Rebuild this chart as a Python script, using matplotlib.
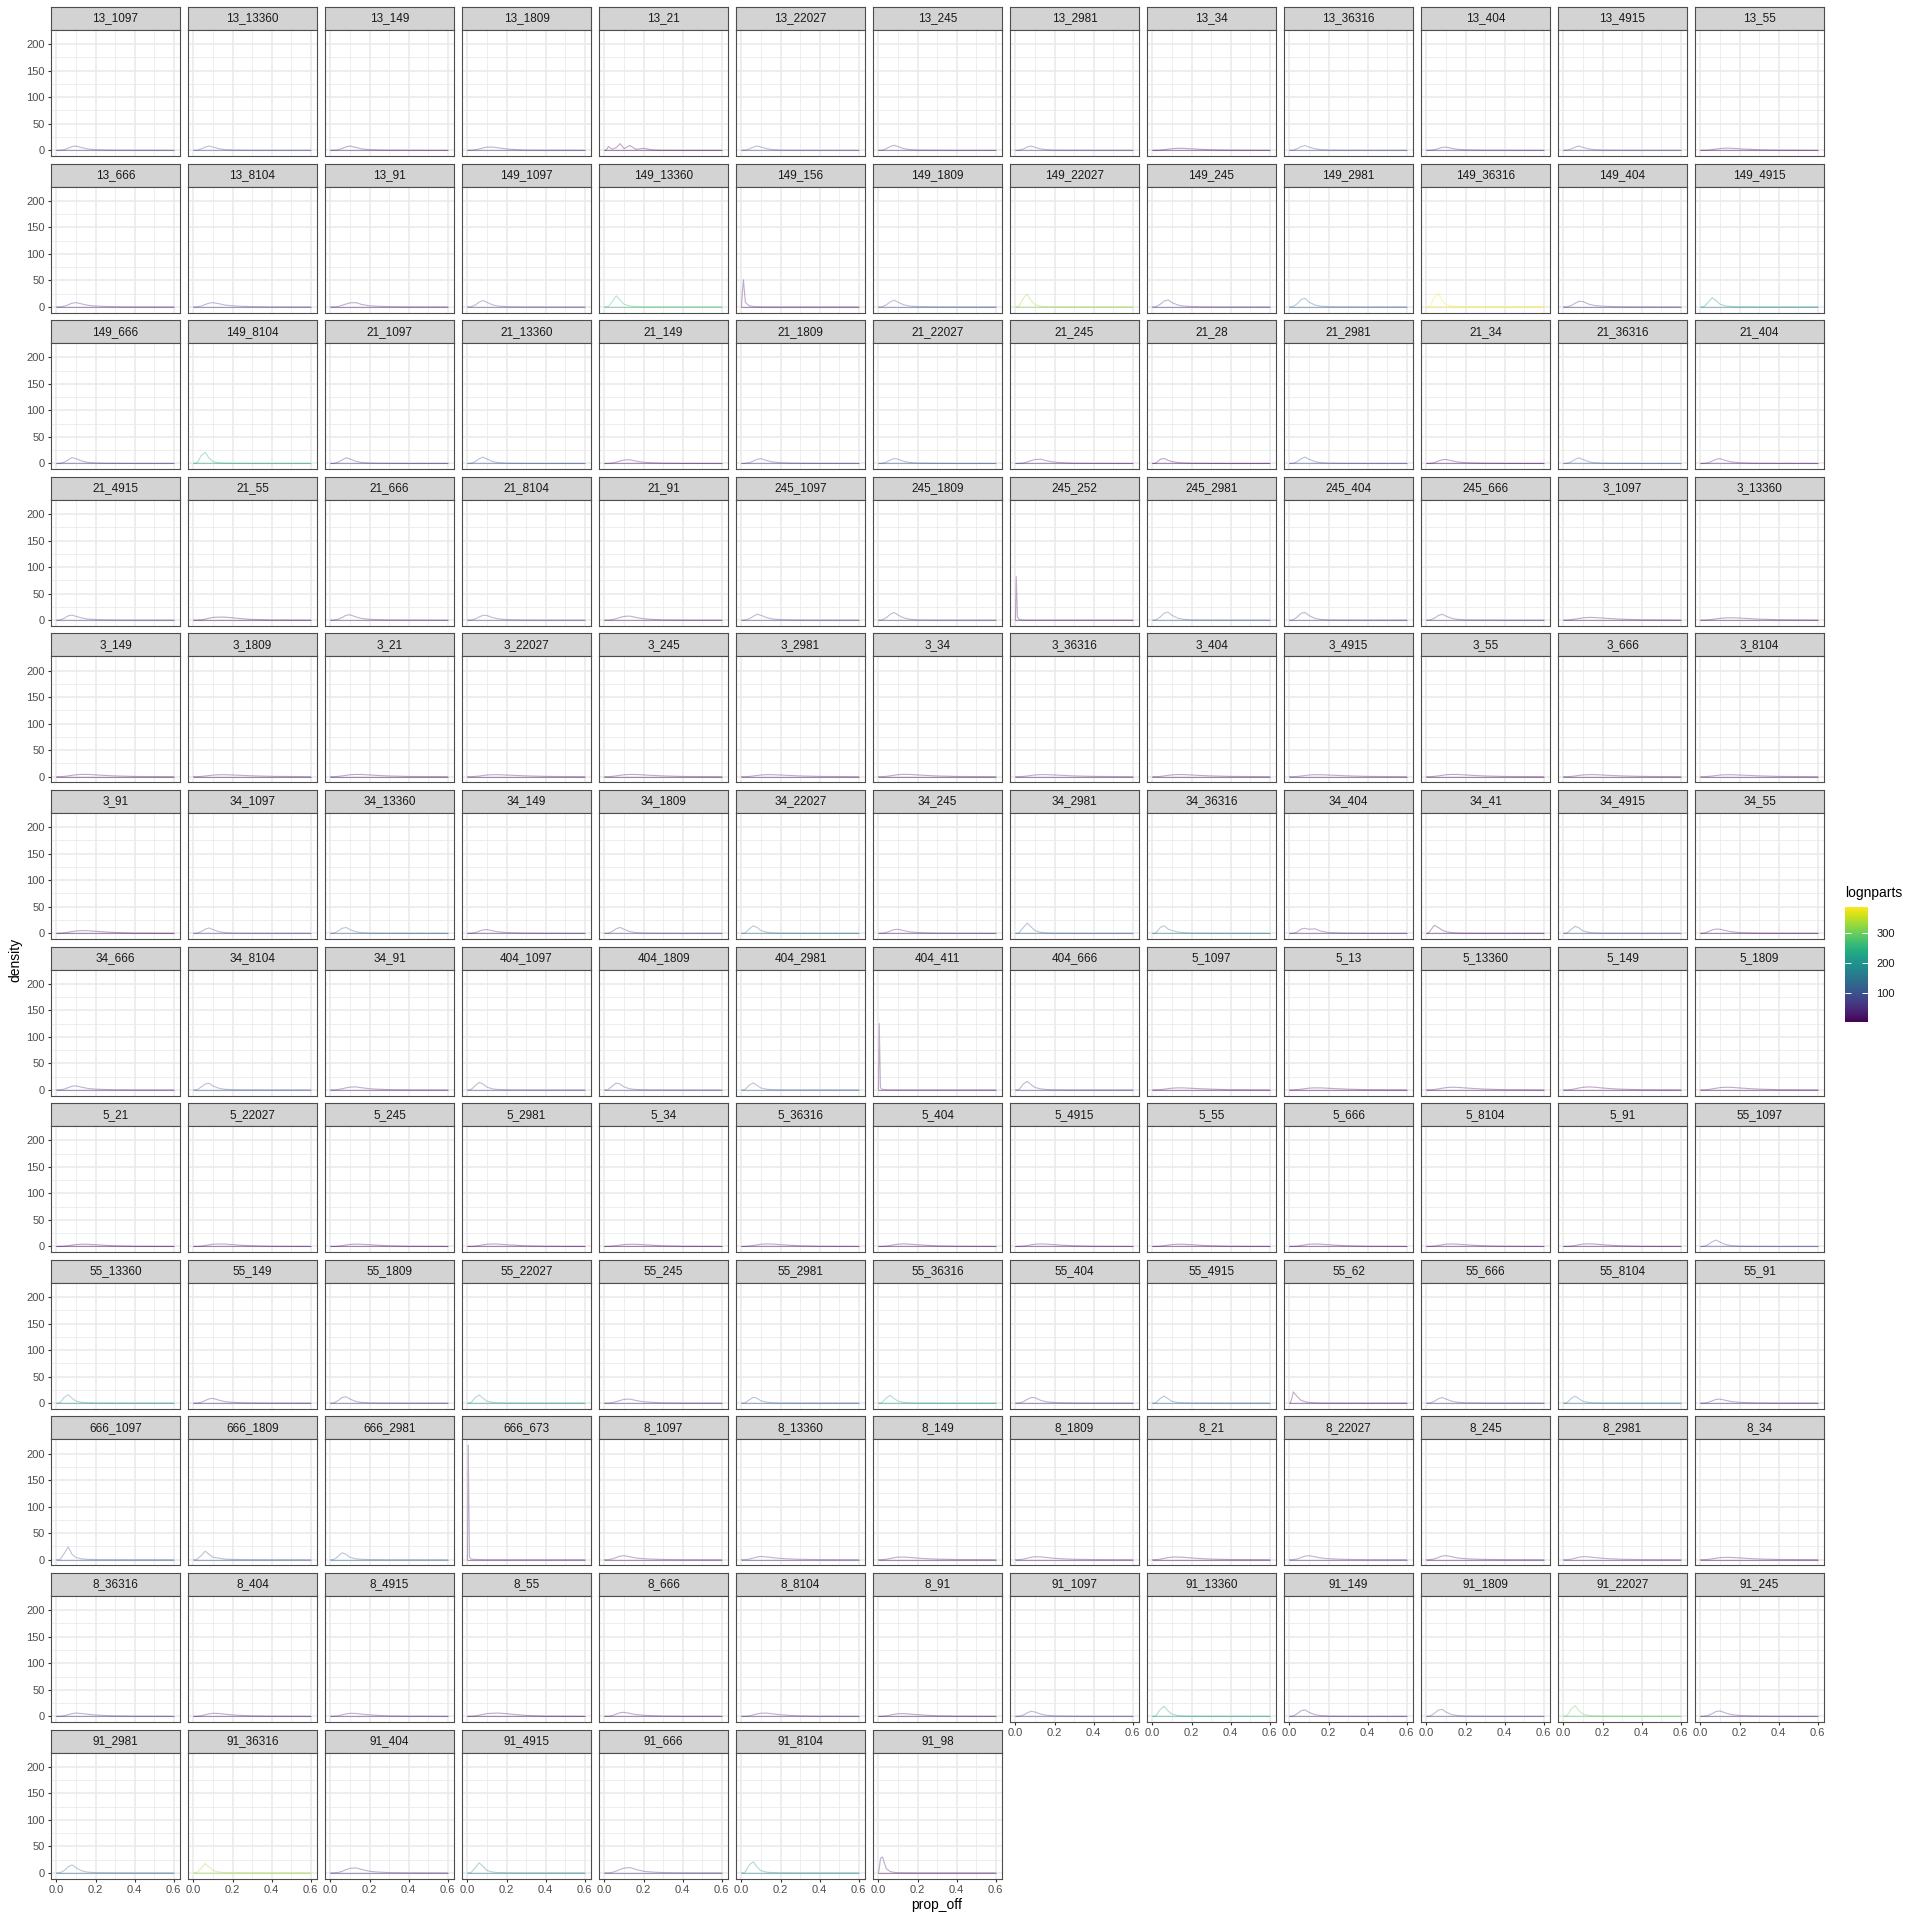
import matplotlib.pyplot as plt
from matplotlib import colors as mcolors
from matplotlib.cm import ScalarMappable

# facet labels, in facet_wrap order
panel_names = [
    "13_1097", "13_13360", "13_149", "13_1809", "13_21", "13_22027", "13_245", "13_2981", "13_34", "13_36316", "13_404", "13_4915", "13_55",
    "13_666", "13_8104", "13_91", "149_1097", "149_13360", "149_156", "149_1809", "149_22027", "149_245", "149_2981", "149_36316", "149_404", "149_4915",
    "149_666", "149_8104", "21_1097", "21_13360", "21_149", "21_1809", "21_22027", "21_245", "21_28", "21_2981", "21_34", "21_36316", "21_404",
    "21_4915", "21_55", "21_666", "21_8104", "21_91", "245_1097", "245_1809", "245_252", "245_2981", "245_404", "245_666", "3_1097", "3_13360",
    "3_149", "3_1809", "3_21", "3_22027", "3_245", "3_2981", "3_34", "3_36316", "3_404", "3_4915", "3_55", "3_666", "3_8104",
    "3_91", "34_1097", "34_13360", "34_149", "34_1809", "34_22027", "34_245", "34_2981", "34_36316", "34_404", "34_41", "34_4915", "34_55",
    "34_666", "34_8104", "34_91", "404_1097", "404_1809", "404_2981", "404_411", "404_666", "5_1097", "5_13", "5_13360", "5_149", "5_1809",
    "5_21", "5_22027", "5_245", "5_2981", "5_34", "5_36316", "5_404", "5_4915", "5_55", "5_666", "5_8104", "5_91", "55_1097",
    "55_13360", "55_149", "55_1809", "55_22027", "55_245", "55_2981", "55_36316", "55_404", "55_4915", "55_62", "55_666", "55_8104", "55_91",
    "666_1097", "666_1809", "666_2981", "666_673", "8_1097", "8_13360", "8_149", "8_1809", "8_21", "8_22027", "8_245", "8_2981", "8_34",
    "8_36316", "8_404", "8_4915", "8_55", "8_666", "8_8104", "8_91", "91_1097", "91_13360", "91_149", "91_1809", "91_22027", "91_245",
    "91_2981", "91_36316", "91_404", "91_4915", "91_666", "91_8104", "91_98",
]

# colour value of each panel's curve
lognparts = [
    60, 90, 30, 45, 8, 80, 40, 70, 10, 85, 40, 65, 12,
    40, 60, 30, 70, 260, 20, 85, 320, 45, 120, 385, 50, 175,
    60, 230, 55, 95, 25, 60, 100, 30, 8, 80, 12, 110, 35,
    70, 12, 40, 80, 25, 65, 75, 20, 110, 50, 45, 15, 20,
    8, 12, 5, 15, 10, 14, 6, 18, 10, 15, 6, 10, 14,
    8, 80, 120, 30, 70, 140, 35, 110, 150, 40, 15, 90, 15,
    40, 100, 30, 75, 70, 110, 25, 55, 10, 5, 15, 8, 12,
    4, 15, 8, 12, 5, 18, 10, 14, 5, 8, 12, 6, 70,
    180, 35, 65, 200, 40, 110, 215, 45, 120, 20, 55, 150, 30,
    100, 90, 115, 25, 30, 40, 15, 30, 8, 40, 20, 35, 10,
    45, 25, 35, 10, 25, 35, 12, 70, 220, 40, 80, 290, 40,
    125, 330, 45, 170, 50, 185, 25,
]

# x positions where the density curves were read
prop_off_grid = [0, 0.004, 0.01, 0.02, 0.04, 0.06, 0.08, 0.10, 0.13, 0.16, 0.20, 0.25, 0.30, 0.40, 0.60]

# density read at prop_off_grid, one list per panel
density = [
    # row 1
    [0, 0, 0, 0.2, 1.2, 4, 7, 8, 5, 2.4, 1.2, 0.6, 0.3, 0.1, 0],
    [0, 0, 0, 0.3, 2.5, 6, 8, 6, 3, 1.2, 0.5, 0.2, 0.1, 0, 0],
    [0, 0, 0, 0.2, 1, 3.5, 6.5, 8, 5.5, 2.5, 1.2, 0.6, 0.3, 0.1, 0],
    [0, 0, 0, 0.2, 1, 2.5, 4.5, 6, 6, 4.5, 2.5, 1.2, 0.5, 0.2, 0],
    [0, 0, 1, 7, 2, 5, 12.5, 3, 9, 2, 3.5, 0.5, 0.1, 0, 0],
    [0, 0, 0, 0.3, 2.5, 6, 8, 6, 3, 1.2, 0.5, 0.2, 0.1, 0, 0],
    [0, 0, 0, 0.3, 3, 7, 9.4, 7, 3, 1.2, 0.5, 0.2, 0.1, 0, 0],
    [0, 0, 0, 0.3, 2.5, 6, 8, 5.5, 2.5, 1, 0.4, 0.2, 0.1, 0, 0],
    [0, 0, 0, 0.1, 0.4, 1.1, 2.1, 3, 3.8, 3.6, 2.7, 1.7, 1, 0.3, 0],
    [0, 0, 0, 0.3, 3, 7, 9, 6, 2.8, 1.1, 0.5, 0.2, 0.1, 0, 0],
    [0, 0, 0, 0.1, 1, 3, 5.4, 6, 3.6, 1.8, 0.9, 0.5, 0.2, 0.1, 0],
    [0, 0, 0, 0.3, 2.5, 6, 8, 5.5, 2.5, 1, 0.4, 0.2, 0.1, 0, 0],
    [0, 0, 0, 0.1, 0.4, 1.2, 2.2, 3.2, 4, 3.8, 2.8, 1.8, 1, 0.3, 0],
    # row 2
    [0, 0, 0, 0.2, 1.2, 4, 7, 8, 5.5, 3, 1.6, 0.8, 0.4, 0.1, 0],
    [0, 0, 0, 0.2, 1.5, 4.5, 7, 8, 6, 3.5, 2, 1, 0.5, 0.1, 0],
    [0, 0, 0, 0.1, 0.8, 3, 5.5, 7.5, 8, 4.5, 2, 1, 0.5, 0.1, 0],
    [0, 0, 0, 0.4, 3.6, 9, 12, 8.4, 3.6, 1.4, 0.6, 0.2, 0.1, 0, 0],
    [0, 0, 0, 1, 10, 21, 13, 5, 1.7, 0.6, 0.2, 0, 0, 0, 0],
    [0, 25, 51, 8, 2, 0.8, 0.3, 0.1, 0, 0, 0, 0, 0, 0, 0],
    [0, 0, 0, 0.4, 3.8, 9.4, 12.5, 8.8, 3.8, 1.5, 0.6, 0.3, 0.1, 0, 0],
    [0, 0, 0, 2, 16, 24, 12, 4, 1.2, 0.5, 0.2, 0.1, 0, 0, 0],
    [0, 0, 0, 0.6, 5, 11, 13, 8, 3.5, 1.5, 0.6, 0.3, 0.1, 0, 0],
    [0, 0, 0, 0.8, 6, 14, 16, 9, 3.5, 1.2, 0.5, 0.2, 0.1, 0, 0],
    [0, 0, 0, 2.5, 18, 26, 12, 4, 1.2, 0.4, 0.2, 0.1, 0, 0, 0],
    [0, 0, 0, 0.3, 2.5, 7, 10.5, 10, 5, 2.5, 1.2, 0.6, 0.3, 0.1, 0],
    [0, 0, 0, 1, 9, 17, 12, 5, 1.6, 0.6, 0.2, 0.1, 0, 0, 0],
    # row 3
    [0, 0, 0, 0.3, 2.5, 7, 11, 9, 4.5, 2, 0.9, 0.4, 0.2, 0, 0],
    [0, 0, 0, 2, 15, 21, 10, 3.5, 1, 0.4, 0.2, 0.1, 0, 0, 0],
    [0, 0, 0, 0.3, 2.5, 7, 10.6, 8.5, 4, 1.8, 0.8, 0.4, 0.2, 0, 0],
    [0, 0, 0, 0.4, 3.6, 9, 12, 8.4, 3.6, 1.4, 0.6, 0.2, 0.1, 0, 0],
    [0, 0, 0, 0.1, 0.8, 2.5, 4.8, 6.5, 7, 4.5, 2.2, 1.1, 0.5, 0.1, 0],
    [0, 0, 0, 0.2, 1.4, 4.5, 8, 9, 5.5, 2.8, 1.4, 0.7, 0.3, 0.1, 0],
    [0, 0, 0, 0.3, 2.5, 6.5, 9.4, 8, 4, 1.8, 0.8, 0.4, 0.2, 0, 0],
    [0, 0, 0, 0.1, 0.8, 2.8, 5.5, 7.5, 8, 5, 2.5, 1.2, 0.5, 0.1, 0],
    [0, 0, 0.2, 1.5, 8, 9.4, 6, 3.5, 1.8, 0.9, 0.4, 0.2, 0.1, 0, 0],
    [0, 0, 0, 0.4, 3.6, 9, 12, 8, 3.5, 1.4, 0.6, 0.2, 0.1, 0, 0],
    [0, 0, 0, 0.2, 1.5, 4.5, 7, 7.5, 5, 2.8, 1.5, 0.8, 0.4, 0.1, 0],
    [0, 0, 0, 0.4, 3.2, 8, 10.6, 7.5, 3.2, 1.3, 0.5, 0.2, 0.1, 0, 0],
    [0, 0, 0, 0.2, 1.4, 4.5, 8, 9, 5.5, 2.8, 1.4, 0.7, 0.3, 0.1, 0],
    # row 4
    [0, 0, 0, 0.4, 3.5, 8, 9.4, 7, 4, 2, 1, 0.5, 0.2, 0, 0],
    [0, 0, 0, 0.1, 0.6, 1.8, 3.5, 5, 5.6, 5.6, 4.2, 2.5, 1.2, 0.3, 0],
    [0, 0, 0, 0.2, 1.6, 5, 9, 10, 6, 3, 1.5, 0.8, 0.4, 0.1, 0],
    [0, 0, 0, 0.3, 2.2, 6, 9, 8.5, 4.5, 2.2, 1, 0.5, 0.2, 0, 0],
    [0, 0, 0, 0.1, 0.8, 2.6, 5, 7, 7.5, 5, 2.5, 1.2, 0.5, 0.1, 0],
    [0, 0, 0, 0.3, 2.5, 7, 11, 9, 4.5, 2, 0.9, 0.4, 0.2, 0, 0],
    [0, 0, 0, 0.5, 4.5, 11, 14.4, 9.5, 4, 1.5, 0.6, 0.2, 0.1, 0, 0],
    [0, 82, 6, 1, 0.3, 0.1, 0, 0, 0, 0, 0, 0, 0, 0, 0],
    [0, 0, 0, 0.8, 6, 13, 15, 9, 3.5, 1.2, 0.5, 0.2, 0.1, 0, 0],
    [0, 0, 0, 0.8, 6, 13, 14.4, 8.5, 3.2, 1.2, 0.5, 0.2, 0.1, 0, 0],
    [0, 0, 0, 0.4, 3.5, 8.5, 11, 7.5, 3.2, 1.3, 0.5, 0.2, 0.1, 0, 0],
    [0, 0, 0, 0.2, 0.8, 1.8, 3, 4.2, 5, 4.8, 3.8, 2.6, 1.6, 0.5, 0],
    [0, 0, 0, 0.1, 0.5, 1.3, 2.3, 3.3, 4.2, 4.4, 3.8, 2.8, 1.8, 0.6, 0],
    # row 5
    [0, 0, 0, 0.1, 0.6, 1.5, 2.6, 3.6, 4.3, 4.2, 3.4, 2.3, 1.4, 0.4, 0],
    [0, 0, 0, 0.1, 0.5, 1.2, 2.1, 3, 3.6, 3.7, 3.2, 2.4, 1.6, 0.6, 0],
    [0, 0, 0, 0.1, 0.6, 1.5, 2.6, 3.6, 4.2, 4.1, 3.3, 2.2, 1.3, 0.4, 0],
    [0, 0, 0, 0.1, 0.5, 1.2, 2.2, 3.1, 3.7, 3.7, 3.1, 2.3, 1.5, 0.5, 0],
    [0, 0, 0, 0.1, 0.6, 1.5, 2.6, 3.6, 4.2, 4.1, 3.3, 2.3, 1.4, 0.4, 0],
    [0, 0, 0, 0.1, 0.5, 1.3, 2.3, 3.2, 3.8, 3.8, 3.1, 2.2, 1.4, 0.5, 0],
    [0, 0, 0, 0.1, 0.6, 1.6, 2.8, 3.8, 4.4, 4.2, 3.3, 2.2, 1.3, 0.4, 0],
    [0, 0, 0, 0.1, 0.5, 1.3, 2.3, 3.3, 3.9, 3.9, 3.2, 2.3, 1.4, 0.5, 0],
    [0, 0, 0, 0.1, 0.5, 1.4, 2.5, 3.4, 4, 3.9, 3.2, 2.2, 1.4, 0.5, 0],
    [0, 0, 0, 0.1, 0.5, 1.2, 2.2, 3.1, 3.7, 3.7, 3.1, 2.3, 1.5, 0.5, 0],
    [0, 0, 0, 0.1, 0.6, 1.5, 2.6, 3.6, 4.2, 4.1, 3.3, 2.2, 1.3, 0.4, 0],
    [0, 0, 0, 0.1, 0.5, 1.3, 2.4, 3.3, 3.9, 3.8, 3.1, 2.2, 1.4, 0.5, 0],
    [0, 0, 0, 0.1, 0.5, 1.2, 2.2, 3.1, 3.7, 3.7, 3.1, 2.3, 1.5, 0.5, 0],
    # row 6
    [0, 0, 0, 0.2, 0.8, 1.9, 3.2, 4.3, 5, 4.8, 3.7, 2.5, 1.5, 0.4, 0],
    [0, 0, 0, 0.4, 3.2, 7.8, 10, 7, 3, 1.2, 0.5, 0.2, 0.1, 0, 0],
    [0, 0, 0, 0.6, 4.5, 9.5, 11, 7, 2.8, 1.1, 0.4, 0.2, 0.1, 0, 0],
    [0, 0, 0, 0.2, 1.3, 4, 6.5, 7, 4.5, 2.5, 1.3, 0.7, 0.3, 0.1, 0],
    [0, 0, 0, 0.4, 3.5, 8.5, 11, 7.5, 3.2, 1.3, 0.5, 0.2, 0.1, 0, 0],
    [0, 0, 0, 1, 8, 14, 11, 5, 1.8, 0.7, 0.3, 0.1, 0, 0, 0],
    [0, 0, 0, 0.2, 1.4, 4.2, 7, 7.5, 5, 2.7, 1.4, 0.7, 0.3, 0.1, 0],
    [0, 0, 0, 1.5, 11, 19, 12, 5, 1.6, 0.6, 0.2, 0.1, 0, 0, 0],
    [0, 0, 0, 1.5, 11, 14, 8, 5, 2.5, 1, 0.4, 0.2, 0.1, 0, 0],
    [0, 0, 0, 0.3, 2.5, 8, 9.4, 7.5, 8.5, 4, 1.5, 0.6, 0.2, 0, 0],
    [0, 0, 0.5, 5, 15, 11, 6, 3, 1.2, 0.5, 0.2, 0.1, 0, 0, 0],
    [0, 0, 0, 1, 7.5, 13, 10, 4.5, 1.6, 0.6, 0.2, 0.1, 0, 0, 0],
    [0, 0, 0, 0.4, 3, 6.5, 8, 7.5, 5, 2.8, 1.3, 0.6, 0.3, 0.1, 0],
    # row 7
    [0, 0, 0, 0.2, 1.4, 4.2, 7, 7.5, 5, 2.7, 1.4, 0.7, 0.3, 0.1, 0],
    [0, 0, 0, 0.7, 5.5, 11, 12.5, 7.5, 3, 1.1, 0.4, 0.2, 0.1, 0, 0],
    [0, 0, 0, 0.1, 0.7, 2.1, 3.9, 5.2, 5.6, 4, 2.2, 1.1, 0.5, 0.1, 0],
    [0, 0, 0, 1, 8, 14, 11, 5, 1.8, 0.7, 0.3, 0.1, 0, 0, 0],
    [0, 0, 0, 0.8, 7, 13, 11, 5.5, 2, 0.8, 0.3, 0.1, 0, 0, 0],
    [0, 0, 0, 1.2, 9, 13, 8.5, 3.5, 1.2, 0.4, 0.2, 0.1, 0, 0, 0],
    [0, 125, 4, 0.8, 0.3, 0.1, 0, 0, 0, 0, 0, 0, 0, 0, 0],
    [0, 0, 0, 1.5, 11, 16, 10, 4.5, 1.8, 0.7, 0.3, 0.1, 0, 0, 0],
    [0, 0, 0, 0.1, 0.5, 1.3, 2.3, 3.2, 3.8, 3.7, 3, 2.1, 1.3, 0.4, 0],
    [0, 0, 0, 0.1, 0.5, 1.3, 2.3, 3.2, 3.8, 3.7, 3, 2.1, 1.3, 0.4, 0],
    [0, 0, 0, 0.1, 0.7, 1.8, 3.1, 4.2, 5, 4.7, 3.6, 2.4, 1.4, 0.4, 0],
    [0, 0, 0, 0.1, 0.7, 2, 3.6, 4.9, 5.6, 5, 3.5, 2.2, 1.2, 0.3, 0],
    [0, 0, 0, 0.1, 0.7, 1.8, 3.1, 4.2, 5, 4.7, 3.6, 2.4, 1.4, 0.4, 0],
    # row 8
    [0, 0, 0, 0.1, 0.6, 1.5, 2.6, 3.6, 4.2, 4.1, 3.3, 2.2, 1.3, 0.4, 0],
    [0, 0, 0, 0.1, 0.7, 1.8, 3.1, 4.2, 4.8, 4.5, 3.4, 2.2, 1.3, 0.4, 0],
    [0, 0, 0, 0.1, 0.6, 1.6, 2.8, 3.8, 4.4, 4.2, 3.3, 2.2, 1.3, 0.4, 0],
    [0, 0, 0, 0.1, 0.7, 1.8, 3.1, 4.2, 4.8, 4.4, 3.3, 2.2, 1.3, 0.4, 0],
    [0, 0, 0, 0.1, 0.6, 1.5, 2.6, 3.6, 4.2, 4.1, 3.3, 2.2, 1.3, 0.4, 0],
    [0, 0, 0, 0.1, 0.7, 1.8, 3.1, 4.2, 4.8, 4.5, 3.4, 2.2, 1.3, 0.4, 0],
    [0, 0, 0, 0.1, 0.7, 1.8, 3.2, 4.3, 4.8, 4.3, 3.2, 2.1, 1.2, 0.4, 0],
    [0, 0, 0, 0.1, 0.7, 1.8, 3.1, 4.2, 4.8, 4.5, 3.4, 2.2, 1.3, 0.4, 0],
    [0, 0, 0, 0.1, 0.6, 1.5, 2.6, 3.6, 4.2, 4.1, 3.3, 2.2, 1.3, 0.4, 0],
    [0, 0, 0, 0.1, 0.7, 1.8, 3.1, 4.2, 4.8, 4.4, 3.3, 2.2, 1.3, 0.4, 0],
    [0, 0, 0, 0.1, 0.7, 1.8, 3.2, 4.3, 4.8, 4.3, 3.2, 2.1, 1.2, 0.4, 0],
    [0, 0, 0, 0.1, 0.7, 1.9, 3.3, 4.5, 5, 4.5, 3.3, 2.1, 1.2, 0.3, 0],
    [0, 0, 0, 0.4, 3.6, 9, 12, 8, 3.5, 1.4, 0.6, 0.2, 0.1, 0, 0],
    # row 9
    [0, 0, 0, 1.5, 11, 15.7, 9, 3.5, 1.2, 0.4, 0.2, 0.1, 0, 0, 0],
    [0, 0, 0, 0.2, 1.5, 4.8, 8, 8.8, 5.5, 2.8, 1.4, 0.7, 0.3, 0.1, 0],
    [0, 0, 0, 0.7, 5, 10.5, 12, 7.5, 3, 1.2, 0.5, 0.2, 0.1, 0, 0],
    [0, 0, 0, 1.5, 10.5, 15, 9, 3.5, 1.2, 0.4, 0.2, 0.1, 0, 0, 0],
    [0, 0, 0, 0.1, 0.8, 2.6, 5, 7, 7.5, 5, 2.5, 1.2, 0.5, 0.1, 0],
    [0, 0, 0, 0.8, 6, 11, 9, 4.2, 1.6, 0.6, 0.2, 0.1, 0, 0, 0],
    [0, 0, 0, 1.5, 10, 14.4, 8.5, 3.5, 1.2, 0.4, 0.2, 0.1, 0, 0, 0],
    [0, 0, 0, 0.3, 2.5, 7, 10.5, 10, 5, 2.3, 1, 0.5, 0.2, 0, 0],
    [0, 0, 0, 1.3, 9, 13, 8, 3.2, 1.1, 0.4, 0.2, 0.1, 0, 0, 0],
    [0, 0, 6, 21, 12, 5, 2.5, 1.2, 0.5, 0.2, 0.1, 0, 0, 0, 0],
    [0, 0, 0, 0.4, 3.2, 8, 10.6, 7.5, 3.5, 1.5, 0.6, 0.3, 0.1, 0, 0],
    [0, 0, 0, 1.3, 9, 13, 8, 3.2, 1.1, 0.4, 0.2, 0.1, 0, 0, 0],
    [0, 0, 0, 0.2, 1.4, 4.2, 7, 7.5, 5, 2.7, 1.4, 0.7, 0.3, 0.1, 0],
    # row 10
    [0, 0, 0, 1, 12, 24, 10, 4, 1.5, 0.6, 0.2, 0.1, 0, 0, 0],
    [0, 0, 0, 1, 8, 16, 10, 4.5, 3, 1, 0.4, 0.2, 0.1, 0, 0],
    [0, 0, 0, 0.8, 6.5, 13, 10, 4.5, 1.6, 0.6, 0.2, 0.1, 0, 0, 0],
    [0, 216, 5, 1, 0.4, 0.2, 0.1, 0, 0, 0, 0, 0, 0, 0, 0],
    [0, 0, 0, 0.2, 1.3, 4, 6.8, 7.5, 5.5, 3.2, 1.8, 1, 0.5, 0.1, 0],
    [0, 0, 0, 0.2, 1, 3, 5, 6, 5.2, 3.8, 2.4, 1.4, 0.7, 0.2, 0],
    [0, 0, 0, 0.1, 0.8, 2.2, 3.8, 4.8, 5, 4.2, 2.9, 1.8, 1, 0.3, 0],
    [0, 0, 0, 0.2, 1, 2.8, 4.6, 5.6, 5.3, 4, 2.6, 1.5, 0.8, 0.2, 0],
    [0, 0, 0, 0.2, 1, 2.5, 4, 4.8, 5, 4.4, 3.2, 2, 1.1, 0.3, 0],
    [0, 0, 0, 0.2, 1.3, 4, 6.8, 7.5, 5.5, 3.2, 1.8, 1, 0.5, 0.1, 0],
    [0, 0, 0, 0.2, 1.3, 4, 6.8, 7.5, 5.5, 3.2, 1.8, 1, 0.5, 0.1, 0],
    [0, 0, 0, 0.2, 1, 2.8, 4.6, 5.6, 5.3, 4, 2.6, 1.5, 0.8, 0.2, 0],
    [0, 0, 0, 0.1, 0.6, 1.6, 2.8, 3.8, 4.4, 4.2, 3.3, 2.2, 1.3, 0.4, 0],
    # row 11
    [0, 0, 0, 0.2, 1, 3, 5, 6, 5.2, 3.8, 2.4, 1.4, 0.7, 0.2, 0],
    [0, 0, 0, 0.2, 1, 2.8, 4.6, 5.6, 5.3, 4, 2.6, 1.5, 0.8, 0.2, 0],
    [0, 0, 0, 0.2, 1, 2.8, 4.6, 5.6, 5.3, 4, 2.6, 1.5, 0.8, 0.2, 0],
    [0, 0, 0, 0.1, 0.7, 2, 3.6, 5, 5.8, 6, 4.8, 3, 1.6, 0.4, 0],
    [0, 0, 0, 0.2, 1.3, 4, 6.8, 7.5, 5.5, 3.2, 1.8, 1, 0.5, 0.1, 0],
    [0, 0, 0, 0.1, 0.8, 2.5, 4.5, 5.8, 6, 4.5, 2.8, 1.6, 0.8, 0.2, 0],
    [0, 0, 0, 0.1, 0.8, 2.2, 3.8, 4.8, 5, 4.2, 2.9, 1.8, 1, 0.3, 0],
    [0, 0, 0, 0.3, 2.3, 6.5, 9.4, 8, 4, 1.8, 0.8, 0.4, 0.2, 0, 0],
    [0, 0, 0, 2, 13, 19, 10, 4, 1.3, 0.5, 0.2, 0.1, 0, 0, 0],
    [0, 0, 0, 0.7, 5, 10.5, 12, 7.5, 3, 1.2, 0.5, 0.2, 0.1, 0, 0],
    [0, 0, 0, 0.7, 5.5, 11.5, 13, 8, 3, 1.2, 0.5, 0.2, 0.1, 0, 0],
    [0, 0, 0, 2, 14, 20, 10, 4, 1.3, 0.5, 0.2, 0.1, 0, 0, 0],
    [0, 0, 0, 0.2, 1.6, 5, 9, 10, 6, 3, 1.5, 0.8, 0.4, 0.1, 0],
    # row 12
    [0, 0, 0, 0.5, 4.5, 11.5, 15, 9.5, 3.8, 1.4, 0.5, 0.2, 0.1, 0, 0],
    [0, 0, 0, 1.2, 9, 17.5, 11, 4.5, 1.5, 0.5, 0.2, 0.1, 0, 0, 0],
    [0, 0, 0, 0.1, 0.9, 3, 6, 8.5, 9.4, 6.5, 3, 1.4, 0.6, 0.1, 0],
    [0, 0, 0, 1.3, 10, 19, 12, 4.5, 1.5, 0.5, 0.2, 0.1, 0, 0, 0],
    [0, 0, 0, 0.1, 1, 3.2, 6.5, 9, 10, 6.5, 3, 1.4, 0.6, 0.1, 0],
    [0, 0, 0, 2, 15, 21, 11, 4, 1.3, 0.5, 0.2, 0.1, 0, 0, 0],
    [0, 8, 27, 30, 8, 2.5, 1, 0.4, 0.2, 0.1, 0, 0, 0, 0, 0],
]

x_ticks = [0.0, 0.2, 0.4, 0.6]
x_tick_labels = ["0.0", "0.2", "0.4", "0.6"]
y_ticks = [0, 50, 100, 150, 200]
cbar_ticks = [100, 200, 300]

plt.rcParams['font.family'] = ['Liberation Sans', 'DejaVu Sans']

W = H = 1920
fig = plt.figure(figsize=(19.2, 19.2), dpi=100)
fig.patch.set_facecolor('white')

ncol = 13
col_left0, col_pitch, panel_w = 51, 137, 129
row_top0, row_pitch = 7, 156.6
strip_h, panel_h = 23, 126
border = '#4D4D4D'


def fig_rect(x, y, w, h):
    return [x / W, 1 - (y + h) / H, w / W, h / H]


norm = mcolors.Normalize(vmin=1, vmax=388)
cmap = plt.get_cmap('viridis')
n = len(panel_names)

for i, name in enumerate(panel_names):
    r, c = divmod(i, ncol)
    x0 = col_left0 + c * col_pitch
    y0 = row_top0 + r * row_pitch

    # strip
    sax = fig.add_axes(fig_rect(x0, y0, panel_w, strip_h))
    sax.set_facecolor('#D3D3D3')
    sax.set_xticks([])
    sax.set_yticks([])
    for sp in sax.spines.values():
        sp.set_color(border)
        sp.set_linewidth(0.8)
    sax.text(0.5, 0.5, name, ha='center', va='center', fontsize=8.5,
             color='#1A1A1A', transform=sax.transAxes)

    # panel
    ax = fig.add_axes(fig_rect(x0, y0 + strip_h, panel_w, panel_h))
    ax.set_xlim(-0.028, 0.632)
    ax.set_ylim(-10.8, 226.8)
    ax.set_xticks(x_ticks)
    ax.set_xticks([0.1, 0.3, 0.5], minor=True)
    ax.set_yticks(y_ticks)
    ax.set_yticks([25, 75, 125, 175], minor=True)
    ax.grid(which='major', color='#EBEBEB', linewidth=1.2)
    ax.grid(which='minor', color='#EBEBEB', linewidth=0.6)
    ax.set_axisbelow(True)
    for sp in ax.spines.values():
        sp.set_color(border)
        sp.set_linewidth(0.8)

    is_bottom = i + ncol >= n
    ax.tick_params(which='minor', length=0)
    ax.tick_params(axis='x', which='major', length=2.5 if is_bottom else 0,
                   color='#333333', width=0.8, labelsize=8, labelcolor='#4D4D4D',
                   pad=2, labelbottom=is_bottom)
    ax.tick_params(axis='y', which='major', length=2.5 if c == 0 else 0,
                   color='#333333', width=0.8, labelsize=8, labelcolor='#4D4D4D',
                   pad=2, labelleft=(c == 0))
    if is_bottom:
        ax.set_xticklabels(x_tick_labels)

    col = cmap(norm(lognparts[i]))
    ax.plot([prop_off_grid[0], prop_off_grid[-1]], [0, 0], color=col,
            alpha=0.45, linewidth=0.8, solid_capstyle='butt')
    ax.plot(prop_off_grid, density[i], color=col, alpha=0.35, linewidth=0.8)

# axis titles
fig.text(937 / W, 1 - 1905 / H, 'prop_off', ha='center', va='center', fontsize=10)
fig.text(15 / W, 1 - 960 / H, 'density', ha='center', va='center',
         rotation=90, fontsize=10)

# colour bar legend
fig.text(1845 / W, 1 - 893 / H, 'lognparts', ha='left', va='center', fontsize=10)
cax = fig.add_axes(fig_rect(1845, 907, 23, 115))
sm = ScalarMappable(norm=norm, cmap=cmap)
cb = fig.colorbar(sm, cax=cax, ticks=cbar_ticks)
cb.outline.set_visible(False)
cb.minorticks_off()
cax.tick_params(which='major', direction='in', length=4.5, color='white',
                width=0.7, left=True, right=True, labelleft=False,
                labelright=True, labelsize=8, labelcolor='#1A1A1A', pad=6)

fig.savefig('out.png', dpi=100, facecolor='white')
